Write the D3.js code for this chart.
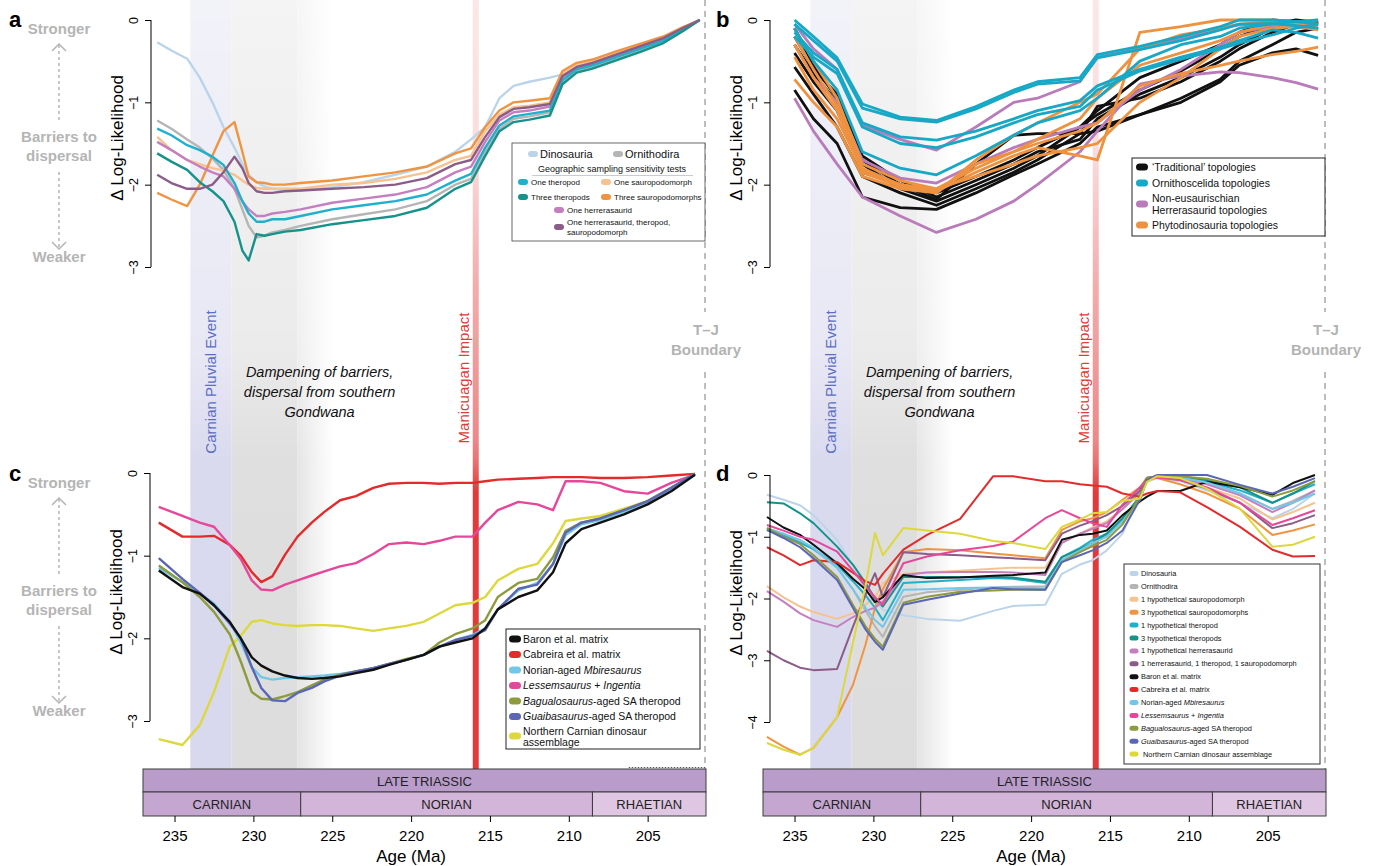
<!DOCTYPE html>
<html>
<head>
<meta charset="utf-8">
<script src="https://cdn.jsdelivr.net/npm/d3@7"></script>
<style>
  body { margin: 0; background: #fff; }
  svg { font-family: "Liberation Sans", Arial, Helvetica, sans-serif; display: block; }
</style>
</head>
<body>
<svg id="chart" width="1375" height="866"></svg>
<script>
// ---------- data (ages in Ma, values = delta log-likelihood) ----------
const ageTicks = [235, 230, 225, 220, 215, 210, 205];
const stages = [
  { name: "CARNIAN", start: 237, end: 227, color: "#c4a6d1" },
  { name: "NORIAN", start: 227, end: 208.5, color: "#d3b5d9" },
  { name: "RHAETIAN", start: 208.5, end: 201.3, color: "#dfc6e3" }
];
const pluvialEvent = [234.0, 231.4];
const dampening = [231.4, 227.2, 224.9];
const impactAge = 215.9;
const tjBoundary = 201.3;

// panel a
const aAges = [236.1, 235.2, 234.2, 233.4, 232.6, 231.9, 231.2, 230.7, 230.3, 229.8, 229.3, 228.8, 228, 227, 225, 223, 221, 219, 217.2, 216.2, 215.3, 214.4, 213.5, 212.5, 211.2, 210.4, 209.5, 208.5, 207, 205.5, 204, 202.8, 201.7];
const aDinosauria = [-0.27, -0.37, -0.47, -0.7, -1.0, -1.3, -1.55, -1.75, -1.88, -1.97, -2.02, -2.05, -2.07, -2.07, -2.03, -1.97, -1.88, -1.78, -1.6, -1.45, -1.3, -0.95, -0.8, -0.75, -0.7, -0.66, -0.62, -0.57, -0.48, -0.37, -0.26, -0.12, 0];
const aOrnithodira = [-1.22, -1.32, -1.45, -1.55, -1.68, -1.82, -2.05, -2.3, -2.5, -2.64, -2.62, -2.58, -2.55, -2.5, -2.42, -2.36, -2.3, -2.2, -2.0, -1.93, -1.6, -1.32, -1.2, -1.17, -1.12, -0.75, -0.62, -0.57, -0.47, -0.37, -0.26, -0.13, 0];
const aOneTheropod = [-1.32, -1.4, -1.52, -1.58, -1.66, -1.76, -1.98, -2.2, -2.35, -2.45, -2.45, -2.42, -2.42, -2.38, -2.3, -2.25, -2.2, -2.12, -1.95, -1.87, -1.55, -1.28, -1.17, -1.14, -1.1, -0.73, -0.6, -0.55, -0.45, -0.35, -0.25, -0.12, 0];
const aOneSauro = [-1.42, -1.58, -1.7, -1.75, -1.8, -1.83, -1.88, -1.95, -2.0, -2.04, -2.05, -2.05, -2.05, -2.05, -2.0, -1.98, -1.93, -1.85, -1.7, -1.65, -1.35, -1.15, -1.06, -1.04, -1.0, -0.65, -0.55, -0.5, -0.4, -0.31, -0.22, -0.1, 0];
const aThreeTheropods = [-1.62, -1.72, -1.82, -1.97, -2.08, -2.2, -2.45, -2.8, -2.92, -2.6, -2.62, -2.6, -2.57, -2.55, -2.48, -2.43, -2.38, -2.28, -2.05, -1.97, -1.65, -1.35, -1.24, -1.21, -1.16, -0.78, -0.64, -0.59, -0.49, -0.39, -0.28, -0.14, 0];
const aThreeSauro = [-2.1, -2.18, -2.26, -2.0, -1.65, -1.35, -1.24, -1.6, -1.9, -1.97, -1.98, -2.0, -2.0, -1.98, -1.95, -1.9, -1.85, -1.78, -1.62, -1.56, -1.3, -1.1, -1.0, -0.98, -0.95, -0.62, -0.52, -0.48, -0.38, -0.29, -0.2, -0.09, 0];
const aOneHerrera = [-1.48, -1.58, -1.7, -1.78, -1.85, -1.9, -2.05, -2.2, -2.3, -2.38, -2.38, -2.35, -2.33, -2.3, -2.22, -2.17, -2.12, -2.03, -1.85, -1.78, -1.48, -1.22, -1.12, -1.1, -1.05, -0.7, -0.58, -0.53, -0.43, -0.33, -0.23, -0.11, 0];
const aCombo = [-1.88, -1.98, -2.05, -2.05, -2.0, -1.85, -1.66, -1.8, -1.98, -2.08, -2.1, -2.1, -2.08, -2.07, -2.05, -2.03, -2.0, -1.92, -1.75, -1.7, -1.42, -1.18, -1.08, -1.06, -1.02, -0.68, -0.57, -0.52, -0.42, -0.32, -0.22, -0.1, 0];

// panel b
const bAges = [235.0, 233.8, 232.3, 230.7, 228.3, 226.0, 223.5, 221.1, 219.6, 216.9, 215.8, 213.1, 210.5, 208.0, 206.8, 204.7, 203.2, 201.8];
const bTraditional = [
  [-0.1, -0.55, -0.95, -1.65, -1.95, -2.15, -1.95, -1.75, -1.6, -1.45, -1.2, -0.9, -0.7, -0.45, -0.3, -0.1, -0.05, -0.02],
  [-0.4, -0.75, -1.1, -1.75, -2.05, -2.2, -2.0, -1.8, -1.65, -1.3, -1.15, -0.85, -0.62, -0.35, -0.2, -0.05, 0, -0.03],
  [-0.57, -0.9, -1.3, -1.9, -2.1, -2.25, -2.05, -1.85, -1.7, -1.38, -1.05, -0.95, -0.75, -0.5, -0.35, -0.15, -0.05, -0.05],
  [-0.85, -1.2, -1.5, -2.15, -2.28, -2.3, -2.1, -1.88, -1.75, -1.5, -1.3, -1.15, -1.0, -0.75, -0.55, -0.4, -0.35, -0.43],
  [-0.3, -0.65, -1.0, -1.85, -2.0, -2.18, -1.75, -1.4, -1.38, -1.38, -1.35, -1.15, -0.95, -0.72, -0.5, -0.3, -0.15, -0.1],
  [-0.2, -0.6, -0.9, -1.7, -2.0, -2.1, -1.9, -1.7, -1.55, -1.3, -1.1, -0.7, -0.5, -0.3, -0.15, 0, -0.02, -0.05]
];
const bHerrerasaurid = [
  [-0.95, -1.35, -1.75, -2.15, -2.38, -2.58, -2.42, -2.2, -2.0, -1.6, -1.35, -0.78, -0.68, -0.63, -0.64, -0.7, -0.76, -0.84],
  [-0.05, -0.35, -0.6, -1.28, -1.45, -1.58, -1.3, -1.0, -0.95, -0.75, -0.45, -0.35, -0.22, -0.1, -0.06, -0.05, -0.08, -0.1],
  [-0.3, -0.7, -1.0, -1.7, -1.92, -1.98, -1.75, -1.55, -1.45, -1.3, -1.25, -0.85, -0.6, -0.3, -0.15, -0.08, -0.05, -0.05]
];
const bPhytodinosauria = [
  [-0.1, -0.5, -0.95, -1.75, -1.95, -2.05, -1.8, -1.6, -1.45, -1.2, -0.95, -0.55, -0.4, -0.25, -0.15, -0.05, -0.03, 0],
  [-0.2, -0.6, -1.05, -1.8, -2.0, -2.08, -1.85, -1.65, -1.55, -1.65, -1.7, -0.15, -0.08, 0, 0, 0, -0.02, -0.05],
  [-0.3, -0.7, -1.1, -1.85, -2.02, -2.1, -1.7, -1.4, -1.25, -1.0, -0.9, -0.35, -0.18, -0.1, -0.05, -0.02, -0.05, -0.1],
  [-0.72, -1.0, -1.3, -1.9, -2.05, -2.1, -1.75, -1.6, -1.5, -1.35, -1.25, -0.8, -0.65, -0.55, -0.5, -0.42, -0.38, -0.33],
  [-0.45, -0.85, -1.2, -1.82, -2.0, -2.05, -1.9, -1.75, -1.65, -1.55, -1.5, -1.0, -0.7, -0.35, -0.2, -0.1, -0.08, -0.12]
];
const bOrnithoscelida = [
  [0, -0.2, -0.46, -1.02, -1.18, -1.22, -1.05, -0.85, -0.75, -0.7, -0.42, -0.32, -0.2, -0.08, 0, 0, -0.02, -0.05],
  [-0.05, -0.25, -0.5, -1.07, -1.2, -1.24, -1.08, -0.88, -0.78, -0.74, -0.46, -0.36, -0.25, -0.12, -0.05, -0.04, -0.07, -0.1],
  [-0.15, -0.4, -0.6, -1.25, -1.42, -1.46, -1.35, -1.2, -1.1, -0.98, -0.8, -0.6, -0.45, -0.33, -0.25, -0.12, -0.15, -0.22],
  [-0.2, -0.45, -0.65, -1.3, -1.5, -1.55, -1.42, -1.25, -1.15, -1.05, -0.85, -0.62, -0.48, -0.35, -0.28, -0.18, -0.1, -0.05],
  [-0.1, -0.5, -0.85, -1.6, -1.8, -1.88, -1.65, -1.4, -1.25, -1.1, -0.95, -0.5, -0.3, -0.2, -0.1, -0.05, -0.02, 0]
];

// panel c
const cAges = [236.0, 234.5, 233.4, 232.5, 231.5, 230.8, 230.1, 229.5, 228.8, 228.0, 227.2, 226.3, 225.5, 224.5, 223.5, 222.4, 221.4, 220.3, 219.2, 218.2, 217.2, 216.1, 215.3, 214.5, 213.2, 212.0, 211.0, 210.2, 209.2, 208.0, 206.5, 205.0, 203.5, 202.0];
const cBaron = [-1.18, -1.38, -1.46, -1.6, -1.8, -2.0, -2.23, -2.33, -2.4, -2.45, -2.48, -2.49, -2.48, -2.46, -2.42, -2.38, -2.32, -2.26, -2.2, -2.1, -2.05, -2.0, -1.88, -1.65, -1.5, -1.42, -1.2, -0.85, -0.68, -0.6, -0.5, -0.38, -0.22, -0.02];
const cCabreira = [-0.6, -0.77, -0.77, -0.76, -0.87, -1.0, -1.2, -1.32, -1.25, -0.99, -0.77, -0.6, -0.47, -0.33, -0.28, -0.18, -0.13, -0.12, -0.12, -0.13, -0.12, -0.12, -0.1, -0.08, -0.07, -0.06, -0.05, -0.05, -0.05, -0.06, -0.06, -0.05, -0.03, -0.01];
const cMbiresaurus = [-1.15, -1.32, -1.45, -1.58, -1.8, -2.05, -2.35, -2.47, -2.5, -2.48, -2.47, -2.46, -2.45, -2.43, -2.4, -2.36, -2.31, -2.26, -2.2, -2.1, -2.02, -1.96, -1.88, -1.65, -1.42, -1.33, -1.1, -0.75, -0.62, -0.57, -0.47, -0.36, -0.2, -0.02];
const cLessemsaurus = [-0.41, -0.52, -0.6, -0.65, -0.87, -1.04, -1.3, -1.41, -1.42, -1.35, -1.3, -1.24, -1.19, -1.13, -1.09, -0.98, -0.86, -0.84, -0.86, -0.82, -0.77, -0.77, -0.6, -0.45, -0.35, -0.38, -0.45, -0.1, -0.1, -0.12, -0.22, -0.25, -0.12, -0.02];
const cBagualosaurus = [-1.12, -1.32, -1.5, -1.68, -1.95, -2.28, -2.65, -2.73, -2.74, -2.7, -2.65, -2.57, -2.5, -2.44, -2.4, -2.36, -2.31, -2.25, -2.2, -2.05, -1.95, -1.88, -1.78, -1.5, -1.33, -1.28, -1.02, -0.7, -0.6, -0.55, -0.45, -0.34, -0.18, -0.01];
const cGuaibasaurus = [-1.03, -1.28, -1.45, -1.6, -1.82, -2.0, -2.35, -2.6, -2.75, -2.76, -2.66, -2.6, -2.52, -2.45, -2.4, -2.36, -2.31, -2.26, -2.2, -2.1, -2.02, -1.97, -1.9, -1.65, -1.4, -1.35, -1.1, -0.72, -0.6, -0.55, -0.45, -0.34, -0.18, -0.01];
const cNorthern = [-3.22, -3.29, -3.05, -2.65, -2.1, -1.97, -1.8, -1.78, -1.82, -1.84, -1.85, -1.84, -1.84, -1.85, -1.88, -1.91, -1.88, -1.85, -1.8, -1.7, -1.6, -1.57, -1.5, -1.3, -1.16, -1.1, -0.85, -0.58, -0.55, -0.52, -0.43, -0.34, -0.18, -0.01];

// panel d
const dAges = [236.75, 235.7, 234.65, 233.8, 232.3, 231.3, 230.5, 229.9, 229.4, 228.1, 226.6, 224.5, 222.4, 221.15, 219.1, 218.05, 216.9, 216.1, 215.2, 214.2, 213.1, 212.65, 212.0, 210.55, 208.85, 206.75, 204.7, 203.4, 202.0];
const dDinosauria = [-0.32, -0.4, -0.49, -0.65, -1.05, -1.48, -1.85, -2.05, -2.18, -2.27, -2.33, -2.36, -2.2, -2.12, -2.1, -1.6, -1.45, -1.38, -1.22, -0.95, -0.3, -0.11, -0.05, -0.1, -0.25, -0.45, -0.7, -0.55, -0.3];
const dOrnithodira = [-0.86, -0.95, -1.08, -1.2, -1.5, -1.85, -2.2, -2.45, -2.62, -1.97, -1.9, -1.86, -1.82, -1.81, -1.8, -1.38, -1.22, -1.12, -0.98, -0.75, -0.35, -0.08, -0.03, -0.05, -0.12, -0.3, -0.55, -0.42, -0.25];
const dOneSauro = [-1.8, -1.98, -2.13, -2.22, -2.33, -2.24, -2.1, -1.98, -1.75, -1.6, -1.58, -1.55, -1.52, -1.5, -1.5, -1.1, -0.95, -0.85, -0.75, -0.55, -0.3, -0.06, -0.03, -0.08, -0.2, -0.38, -0.72, -0.6, -0.45];
const dThreeSauro = [-4.24, -4.4, -4.53, -4.42, -3.92, -3.4, -2.75, -2.15, -1.85, -1.25, -1.2, -1.22, -1.27, -1.3, -1.35, -0.89, -0.75, -0.7, -0.6, -0.4, -0.2, -0.04, -0.05, -0.15, -0.3, -0.55, -0.97, -0.9, -0.8];
const dOneTheropod = [-0.89, -0.98, -1.1, -1.2, -1.45, -1.72, -1.95, -2.15, -2.35, -1.75, -1.73, -1.7, -1.67, -1.68, -1.75, -1.33, -1.18, -1.05, -0.95, -0.72, -0.35, -0.06, -0.02, -0.03, -0.1, -0.25, -0.45, -0.3, -0.15];
const dThreeTheropods = [-0.44, -0.46, -0.62, -0.78, -1.16, -1.45, -1.75, -2.0, -2.13, -1.65, -1.65, -1.65, -1.65, -1.66, -1.73, -1.33, -1.2, -1.1, -0.95, -0.7, -0.35, -0.05, -0.02, -0.02, -0.08, -0.2, -0.45, -0.3, -0.1];
const dOneHerrera = [-1.88, -2.05, -2.24, -2.35, -2.46, -2.3, -2.2, -2.15, -2.05, -1.62, -1.58, -1.57, -1.57, -1.58, -1.62, -1.1, -0.95, -0.87, -0.78, -0.55, -0.28, -0.05, -0.03, -0.06, -0.15, -0.33, -0.6, -0.45, -0.25];
const dCombo = [-2.85, -3.0, -3.12, -3.16, -3.14, -2.46, -1.94, -1.59, -1.98, -1.25, -1.28, -1.3, -1.33, -1.35, -1.38, -0.95, -0.82, -0.75, -0.65, -0.5, -0.25, -0.05, -0.03, -0.08, -0.22, -0.45, -0.86, -0.78, -0.65];
const dBaron = [-0.68, -0.85, -0.97, -1.13, -1.43, -1.68, -1.85, -2.06, -1.98, -1.62, -1.67, -1.66, -1.63, -1.62, -1.58, -1.05, -0.97, -0.95, -0.9, -0.65, -0.43, -0.35, -0.26, -0.26, -0.11, -0.2, -0.32, -0.13, 0];
const dCabreira = [-1.17, -1.3, -1.46, -1.38, -1.41, -1.58, -1.72, -1.78, -1.6, -1.21, -0.97, -0.71, -0.02, -0.02, -0.1, -0.1, -0.15, -0.17, -0.19, -0.3, -0.35, -0.3, -0.26, -0.28, -0.52, -0.84, -1.21, -1.32, -1.31];
const dMbiresaurus = [-0.86, -0.95, -1.05, -1.18, -1.5, -1.85, -2.15, -2.35, -2.46, -1.86, -1.85, -1.83, -1.82, -1.82, -1.84, -1.38, -1.22, -1.1, -1.0, -0.75, -0.4, -0.08, -0.03, -0.04, -0.12, -0.3, -0.55, -0.45, -0.3];
const dLessemsaurus = [-0.81, -0.9, -1.0, -1.05, -1.24, -1.55, -1.8, -1.98, -2.1, -1.43, -1.32, -1.22, -1.15, -1.08, -0.7, -0.57, -0.7, -0.78, -0.84, -0.48, -0.2, -0.08, -0.04, -0.08, -0.2, -0.45, -0.81, -0.7, -0.57];
const dBagualosaurus = [-0.86, -1.0, -1.12, -1.3, -1.65, -2.1, -2.45, -2.65, -2.78, -2.07, -1.97, -1.89, -1.87, -1.86, -1.86, -1.41, -1.25, -1.15, -1.05, -0.8, -0.35, -0.05, -0.02, -0.02, -0.06, -0.18, -0.35, -0.25, -0.1];
const dGuaibasaurus = [-0.89, -1.02, -1.17, -1.35, -1.7, -2.15, -2.5, -2.7, -2.83, -2.1, -2.02, -1.92, -1.83, -1.85, -1.86, -1.41, -1.3, -1.22, -1.1, -0.9, -0.4, -0.08, 0, 0, 0, -0.16, -0.3, -0.19, -0.05];
const dNorthern = [-4.34, -4.45, -4.53, -4.42, -3.92, -2.72, -1.8, -0.94, -1.3, -0.86, -0.9, -0.95, -1.07, -1.1, -1.2, -0.84, -0.72, -0.62, -0.6, -0.42, -0.38, -0.11, -0.02, -0.05, -0.22, -0.55, -1.16, -1.13, -1.0];

// colours
const col = {
  dino: "#bcd4ea", orni: "#b5b5b5", thero1: "#1fb0cc", thero3: "#15928a",
  sauro1: "#f6c28f", sauro3: "#ef9443", herr1: "#c47fc0", combo: "#8b5c88",
  baron: "#111111", cabreira: "#e32b2b", mbir: "#72c7e6", lessem: "#e6479a",
  bagu: "#8d9b3d", guai: "#5b66b5", north: "#ddd83c",
  bBlack: "#111111", bCyan: "#17a8c6", bPurple: "#b97bba", bOrange: "#ef9240"
};

// ---------- drawing ----------
const svg = d3.select("#chart");
const defs = svg.append("defs");
const bandBottom = 769;
const tsTop = 769, tsMid = 792, tsBottom = 816;

const xL = d3.scaleLinear().domain([237, 201.3]).range([143, 706]);
const xR = d3.scaleLinear().domain([237, 201.3]).range([763, 1326]);
const yA = d3.scaleLinear().domain([-3, 0]).range([267, 20]);
const yC = d3.scaleLinear().domain([-3, 0]).range([721, 473]);
const yD = d3.scaleLinear().domain([-4, 0]).range([722, 475]);

function addGradient(id, attrs, stops) {
  const g = defs.append("linearGradient").attr("id", id);
  Object.entries(attrs).forEach(([k, v]) => g.attr(k, v));
  stops.forEach(s => g.append("stop").attr("offset", s[0]).attr("stop-color", s[1])
    .attr("stop-opacity", s[2] == null ? 1 : s[2]));
}
addGradient("vfade", { gradientUnits: "userSpaceOnUse", x1: 0, x2: 0, y1: 0, y2: bandBottom },
  [[0, "#555"], [0.45, "#959595"], [0.6, "#f2f2f2"], [1, "#fff"]]);
addGradient("grayFade", { x1: 0, x2: 1, y1: 0, y2: 0 }, [[0, "#e4e4e4"], [1, "#ffffff"]]);
addGradient("redFade", { gradientUnits: "userSpaceOnUse", x1: 0, x2: 0, y1: 0, y2: bandBottom },
  [[0, "#e23a3a", 0.12], [0.2, "#e23a3a", 0.18], [0.37, "#e23a3a", 0.42], [0.57, "#e23a3a", 0.6],
   [0.6, "#e23a3a", 0.72], [0.64, "#e23a3a", 1], [1, "#e23a3a", 1]]);
defs.append("mask").attr("id", "bandMask").attr("maskUnits", "userSpaceOnUse")
  .attr("x", 0).attr("y", 0).attr("width", 1375).attr("height", 866)
  .append("rect").attr("width", 1375).attr("height", bandBottom).attr("fill", "url(#vfade)");

function drawBands(x) {
  const g = svg.append("g").attr("mask", "url(#bandMask)");
  g.append("rect").attr("x", x(pluvialEvent[0])).attr("y", 0)
    .attr("width", x(pluvialEvent[1]) - x(pluvialEvent[0])).attr("height", bandBottom).attr("fill", "#d8d8ee");
  g.append("rect").attr("x", x(dampening[0])).attr("y", 0)
    .attr("width", x(dampening[1]) - x(dampening[0])).attr("height", bandBottom).attr("fill", "#dddddd");
  g.append("rect").attr("x", x(dampening[1])).attr("y", 0)
    .attr("width", x(dampening[2]) - x(dampening[1])).attr("height", bandBottom).attr("fill", "url(#grayFade)");
  // impact line
  svg.append("rect").attr("x", x(impactAge) - 3).attr("y", 0).attr("width", 6).attr("height", bandBottom)
    .attr("fill", "url(#redFade)");
  // T-J boundary dashed line, broken by its label
  [[0, 312], [372, bandBottom]].forEach(([a, b]) => {
    svg.append("line").attr("x1", x(tjBoundary) - 1).attr("x2", x(tjBoundary) - 1).attr("y1", a).attr("y2", b)
      .attr("stroke", "#a8a8a8").attr("stroke-width", 1.5).attr("stroke-dasharray", "6,5");
  });
}

function drawNotes(x) {
  const g = svg.append("g");
  const pc = (x(pluvialEvent[0]) + x(pluvialEvent[1])) / 2;
  g.append("text").attr("transform", `translate(${pc},382) rotate(-90)`).attr("text-anchor", "middle")
    .attr("dominant-baseline", "central").attr("font-size", 15).attr("fill", "#5b6ec4").text("Carnian Pluvial Event");
  g.append("text").attr("transform", `translate(${x(impactAge) - 12},378) rotate(-90)`).attr("text-anchor", "middle")
    .attr("dominant-baseline", "central").attr("font-size", 15).attr("fill", "#e23a3a").text("Manicuagan Impact");
  const dt = g.append("text").attr("text-anchor", "middle").attr("font-size", 14.5).attr("font-style", "italic").attr("fill", "#111");
  ["Dampening of barriers,", "dispersal from southern", "Gondwana"].forEach((s, i) => {
    dt.append("tspan").attr("x", x(225.8)).attr("y", 377 + i * 20).text(s);
  });
  const tj = g.append("text").attr("text-anchor", "middle").attr("font-size", 15).attr("font-weight", "bold").attr("fill", "#b3b3b3");
  tj.append("tspan").attr("x", x(tjBoundary)).attr("y", 335).text("T\u2013J");
  tj.append("tspan").attr("x", x(tjBoundary)).attr("y", 355).text("Boundary");
}

function drawLeftNote(dy) {
  const g = svg.append("g").attr("transform", `translate(0,${dy})`).attr("fill", "#b5b5b5")
    .attr("font-weight", "bold").attr("font-size", 15).attr("text-anchor", "middle");
  g.append("text").attr("x", 59).attr("y", 34).text("Stronger");
  g.append("text").attr("x", 59).attr("y", 142).text("Barriers to");
  g.append("text").attr("x", 59).attr("y", 161).text("dispersal");
  g.append("text").attr("x", 59).attr("y", 262).text("Weaker");
  const s = { stroke: "#b5b5b5", "stroke-width": 1.5, fill: "none" };
  const p1 = g.append("path").attr("d", "M59,120 L59,45").attr("stroke-dasharray", "3,3");
  const p2 = g.append("path").attr("d", "M52,51 L59,44 L66,51");
  const p3 = g.append("path").attr("d", "M59,172 L59,248").attr("stroke-dasharray", "3,3");
  const p4 = g.append("path").attr("d", "M52,242 L59,249 L66,242");
  [p1, p2, p3, p4].forEach(p => Object.entries(s).forEach(([k, v]) => p.attr(k, v)));
}

function drawYAxis(y, ticks, xPos, cy, letter, letterX, letterY) {
  const g = svg.append("g").attr("transform", `translate(${xPos},0)`);
  g.call(d3.axisLeft(y).tickValues(ticks).tickSize(6).tickSizeOuter(0)
    .tickFormat(d => d === 0 ? "0" : "\u2212" + Math.abs(d)));
  g.attr("font-family", null).attr("font-size", 12.5);
  g.select(".domain").remove();
  g.append("line").attr("y1", y(ticks[0])).attr("y2", y(ticks[ticks.length - 1])).attr("stroke", "#000");
  g.selectAll(".tick line").attr("stroke", "#000");
  g.selectAll(".tick text").attr("fill", "#000").attr("transform", "rotate(-90)")
    .attr("x", 0).attr("y", -13).attr("dy", 0).attr("text-anchor", "middle");
  svg.append("text").attr("transform", `translate(${xPos - 28},${cy}) rotate(-90)`).attr("text-anchor", "middle")
    .attr("font-size", 17).attr("fill", "#000").text("\u0394 Log-Likelihood");
  svg.append("text").attr("x", letterX).attr("y", letterY).attr("font-size", 22).attr("font-weight", "bold").text(letter);
}

function drawSeries(x, y, ages, list, width) {
  const line = d3.line().x((d, i) => x(ages[i])).y(d => y(d));
  svg.append("g").selectAll("path").data(list).join("path")
    .attr("d", d => line(d.values)).attr("fill", "none").attr("stroke", d => d.color)
    .attr("stroke-width", width).attr("stroke-linejoin", "round");
}

function drawTimescale(x, labelAge, dotted) {
  const g = svg.append("g");
  g.append("rect").attr("x", x(237)).attr("y", tsTop).attr("width", x(201.3) - x(237)).attr("height", tsMid - tsTop)
    .attr("fill", "#b99cca").attr("stroke", "#3c3c3c");
  g.append("text").attr("x", (x(237) + x(201.3)) / 2).attr("y", tsTop + 16.5).attr("text-anchor", "middle")
    .attr("font-size", 13).attr("fill", "#222").text("LATE TRIASSIC");
  g.selectAll("rect.stage").data(stages).join("rect").attr("class", "stage")
    .attr("x", d => x(d.start)).attr("y", tsMid).attr("width", d => x(d.end) - x(d.start)).attr("height", tsBottom - tsMid)
    .attr("fill", d => d.color).attr("stroke", "#3c3c3c");
  g.selectAll("text.stage").data(stages).join("text").attr("class", "stage")
    .attr("x", d => (x(d.start) + x(d.end)) / 2).attr("y", tsMid + 16.5).attr("text-anchor", "middle")
    .attr("font-size", 13).attr("fill", "#222").text(d => d.name);
  if (dotted) {
    g.append("line").attr("x1", x(206.2)).attr("x2", x(201.3)).attr("y1", tsTop - 1.5).attr("y2", tsTop - 1.5)
      .attr("stroke", "#555").attr("stroke-width", 1).attr("stroke-dasharray", "1.5,1.5");
  }
  const ax = g.append("g").attr("transform", `translate(0,${tsBottom})`)
    .call(d3.axisBottom(x).tickValues(ageTicks).tickSize(6).tickFormat(d3.format("d")));
  ax.attr("font-family", null).attr("font-size", 15);
  ax.select(".domain").remove();
  ax.selectAll(".tick line").attr("stroke", "#000");
  ax.selectAll(".tick text").attr("fill", "#000").attr("y", 14);
  g.append("text").attr("x", x(labelAge)).attr("y", 862).attr("text-anchor", "middle").attr("font-size", 17).text("Age (Ma)");
}

function swatch(g, cx, cy, color, len, w) {
  g.append("line").attr("x1", cx - len / 2).attr("x2", cx + len / 2).attr("y1", cy).attr("y2", cy)
    .attr("stroke", color).attr("stroke-width", w).attr("stroke-linecap", "round");
}
function label(g, x, y, size, parts) {
  const t = g.append("text").attr("x", x).attr("y", y + size * 0.35).attr("font-size", size).attr("fill", "#111");
  parts.forEach(p => t.append("tspan").attr("font-style", p[1] ? "italic" : null).text(p[0]));
}

// ---------- background bands & notes ----------
drawBands(xL);
drawBands(xR);

// ---------- panel a ----------
const aSeries = [
  { name: "Dinosauria", color: col.dino, values: aDinosauria },
  { name: "Ornithodira", color: col.orni, values: aOrnithodira },
  { name: "One sauropodomorph", color: col.sauro1, values: aOneSauro },
  { name: "Three sauropodomorphs", color: col.sauro3, values: aThreeSauro },
  { name: "One herrerasaurid", color: col.herr1, values: aOneHerrera },
  { name: "One theropod", color: col.thero1, values: aOneTheropod },
  { name: "Three theropods", color: col.thero3, values: aThreeTheropods },
  { name: "One herrerasaurid, theropod, sauropodomorph", color: col.combo, values: aCombo }
];
drawSeries(xL, yA, aAges, aSeries, 2.4);

// ---------- panel b ----------
const bSeries = [].concat(
  bTraditional.map(v => ({ color: col.bBlack, values: v })),
  bHerrerasaurid.map(v => ({ color: col.bPurple, values: v })),
  bPhytodinosauria.map(v => ({ color: col.bOrange, values: v })),
  bOrnithoscelida.map(v => ({ color: col.bCyan, values: v }))
);
drawSeries(xR, yA, bAges, bSeries, 2.8);

// ---------- panel c ----------
const cSeries = [
  { color: col.north, values: cNorthern, label: [["Northern Carnian dinosaur", 0], ["assemblage", 0]] },
  { color: col.cabreira, values: cCabreira, label: [["Cabreira et al. matrix", 0]] },
  { color: col.lessem, values: cLessemsaurus, label: [["Lessemsaurus", 1], [" + ", 0], ["Ingentia", 1]] },
  { color: col.mbir, values: cMbiresaurus, label: [["Norian-aged ", 0], ["Mbiresaurus", 1]] },
  { color: col.bagu, values: cBagualosaurus, label: [["Bagualosaurus", 1], ["-aged SA theropod", 0]] },
  { color: col.guai, values: cGuaibasaurus, label: [["Guaibasaurus", 1], ["-aged SA theropod", 0]] },
  { color: col.baron, values: cBaron, label: [["Baron et al. matrix", 0]] }
];
drawSeries(xL, yC, cAges, cSeries, 2.4);

// ---------- panel d ----------
const dSeries = [
  { color: col.dino, values: dDinosauria, label: [["Dinosauria", 0]] },
  { color: col.orni, values: dOrnithodira, label: [["Ornithodira", 0]] },
  { color: col.sauro1, values: dOneSauro, label: [["1 hypothetical sauropodomorph", 0]] },
  { color: col.sauro3, values: dThreeSauro, label: [["3 hypothetical sauropodomorphs", 0]] },
  { color: col.thero1, values: dOneTheropod, label: [["1 hypothetical theropod", 0]] },
  { color: col.thero3, values: dThreeTheropods, label: [["3 hypothetical theropods", 0]] },
  { color: col.herr1, values: dOneHerrera, label: [["1 hypothetical herrerasaurid", 0]] },
  { color: col.combo, values: dCombo, label: [["1 herrerasaurid, 1 theropod, 1 sauropodomorph", 0]] },
  { color: col.baron, values: dBaron, label: [["Baron et al. matrix", 0]] },
  { color: col.cabreira, values: dCabreira, label: [["Cabreira et al. matrix", 0]] },
  { color: col.mbir, values: dMbiresaurus, label: [["Norian-aged ", 0], ["Mbiresaurus", 1]] },
  { color: col.lessem, values: dLessemsaurus, label: [["Lessemsaurus", 1], [" + ", 0], ["Ingentia", 1]] },
  { color: col.bagu, values: dBagualosaurus, label: [["Bagualosaurus", 1], ["-aged SA theropod", 0]] },
  { color: col.guai, values: dGuaibasaurus, label: [["Guaibasaurus", 1], ["-aged SA theropod", 0]] },
  { color: col.north, values: dNorthern, label: [["Northern Carnian dinosaur assemblage", 0]] }
];
drawSeries(xR, yD, dAges, dSeries, 2);

// ---------- notes, axes ----------
drawNotes(xL);
drawNotes(xR);
drawLeftNote(0);
drawLeftNote(454);
drawYAxis(yA, [0, -1, -2, -3], 151, 138, "a", 9, 27);
drawYAxis(yA, [0, -1, -2, -3], 770, 138, "b", 716, 27);
drawYAxis(yC, [0, -1, -2, -3], 150, 592, "c", 9, 481);
drawYAxis(yD, [0, -1, -2, -3, -4], 770, 593, "d", 716, 481);
drawTimescale(xL, 220, true);
drawTimescale(xR, 220, false);

// ---------- legends ----------
// panel a
{
  const g = svg.append("g");
  g.append("rect").attr("x", 512).attr("y", 143).attr("width", 193).attr("height", 98)
    .attr("fill", "#fff").attr("stroke", "#444").attr("stroke-width", 0.8);
  swatch(g, 533, 154, col.dino, 4, 6); label(g, 540, 154, 11, [["Dinosauria", 0]]);
  swatch(g, 618, 154, col.orni, 4, 6); label(g, 625, 154, 11, [["Ornithodira", 0]]);
  g.append("text").attr("x", 612).attr("y", 172).attr("text-anchor", "middle").attr("font-size", 9)
    .attr("fill", "#111").text("Geographic sampling sensitivity tests");
  g.append("line").attr("x1", 532).attr("x2", 693).attr("y1", 175.5).attr("y2", 175.5).attr("stroke", "#c6cade");
  const rows = [
    [523, 182, col.thero1, "One theropod"], [606, 182, col.sauro1, "One sauropodomorph"],
    [523, 197, col.thero3, "Three theropods"], [606, 197, col.sauro3, "Three sauropodomorphs"],
    [559, 210, col.herr1, "One herrerasaurid"]
  ];
  rows.forEach(r => { swatch(g, r[0], r[1], r[2], 4, 6); label(g, r[0] + 8, r[1], 8, [[r[3], 0]]); });
  swatch(g, 559, 227, col.combo, 4, 6);
  label(g, 567, 222, 8, [["One herrerasaurid, theropod,", 0]]);
  label(g, 567, 232, 8, [["sauropodomorph", 0]]);
}
// panel b
{
  const g = svg.append("g");
  g.append("rect").attr("x", 1132).attr("y", 158).attr("width", 193).attr("height", 78)
    .attr("fill", "#fff").attr("stroke", "#222").attr("stroke-width", 1);
  const rows = [
    [167, col.bBlack, ["\u2018Traditional\u2019 topologies"]],
    [183, col.bCyan, ["Ornithoscelida topologies"]],
    [204, col.bPurple, ["Non-eusaurischian", "Herrerasaurid topologies"]],
    [225, col.bOrange, ["Phytodinosauria topologies"]]
  ];
  rows.forEach(r => {
    swatch(g, 1142, r[0], r[1], 5, 7);
    if (r[2].length === 1) label(g, 1152, r[0], 10.5, [[r[2][0], 0]]);
    else { label(g, 1152, r[0] - 6, 10.5, [[r[2][0], 0]]); label(g, 1152, r[0] + 6.5, 10.5, [[r[2][1], 0]]); }
  });
}
// panel c
{
  const g = svg.append("g");
  g.append("rect").attr("x", 506).attr("y", 629).attr("width", 194).attr("height", 120)
    .attr("fill", "#fff").attr("stroke", "#222").attr("stroke-width", 1);
  const order = [6, 1, 3, 2, 4, 5, 0];
  order.forEach((k, i) => {
    const s = cSeries[k];
    const cy = 639 + i * 15.5;
    if (s.label.length === 2 && k === 0) {
      swatch(g, 515, cy + 4, s.color, 5, 7);
      label(g, 523, cy - 1, 10.5, [s.label[0]]);
      label(g, 523, cy + 10, 10.5, [s.label[1]]);
    } else {
      swatch(g, 515, cy, s.color, 5, 7);
      label(g, 523, cy, 10.5, s.label);
    }
  });
}
// panel d
{
  const g = svg.append("g");
  g.append("rect").attr("x", 1124).attr("y", 564).attr("width", 196).attr("height", 200)
    .attr("fill", "#fff").attr("stroke", "#333").attr("stroke-width", 1);
  dSeries.forEach((s, i) => {
    const cy = 573.5 + i * 12.9;
    swatch(g, 1134, cy, s.color, 4, 5);
    label(g, i === 14 ? 1143 : 1141, cy, 7.4, s.label);
  });
}
</script>
</body>
</html>
